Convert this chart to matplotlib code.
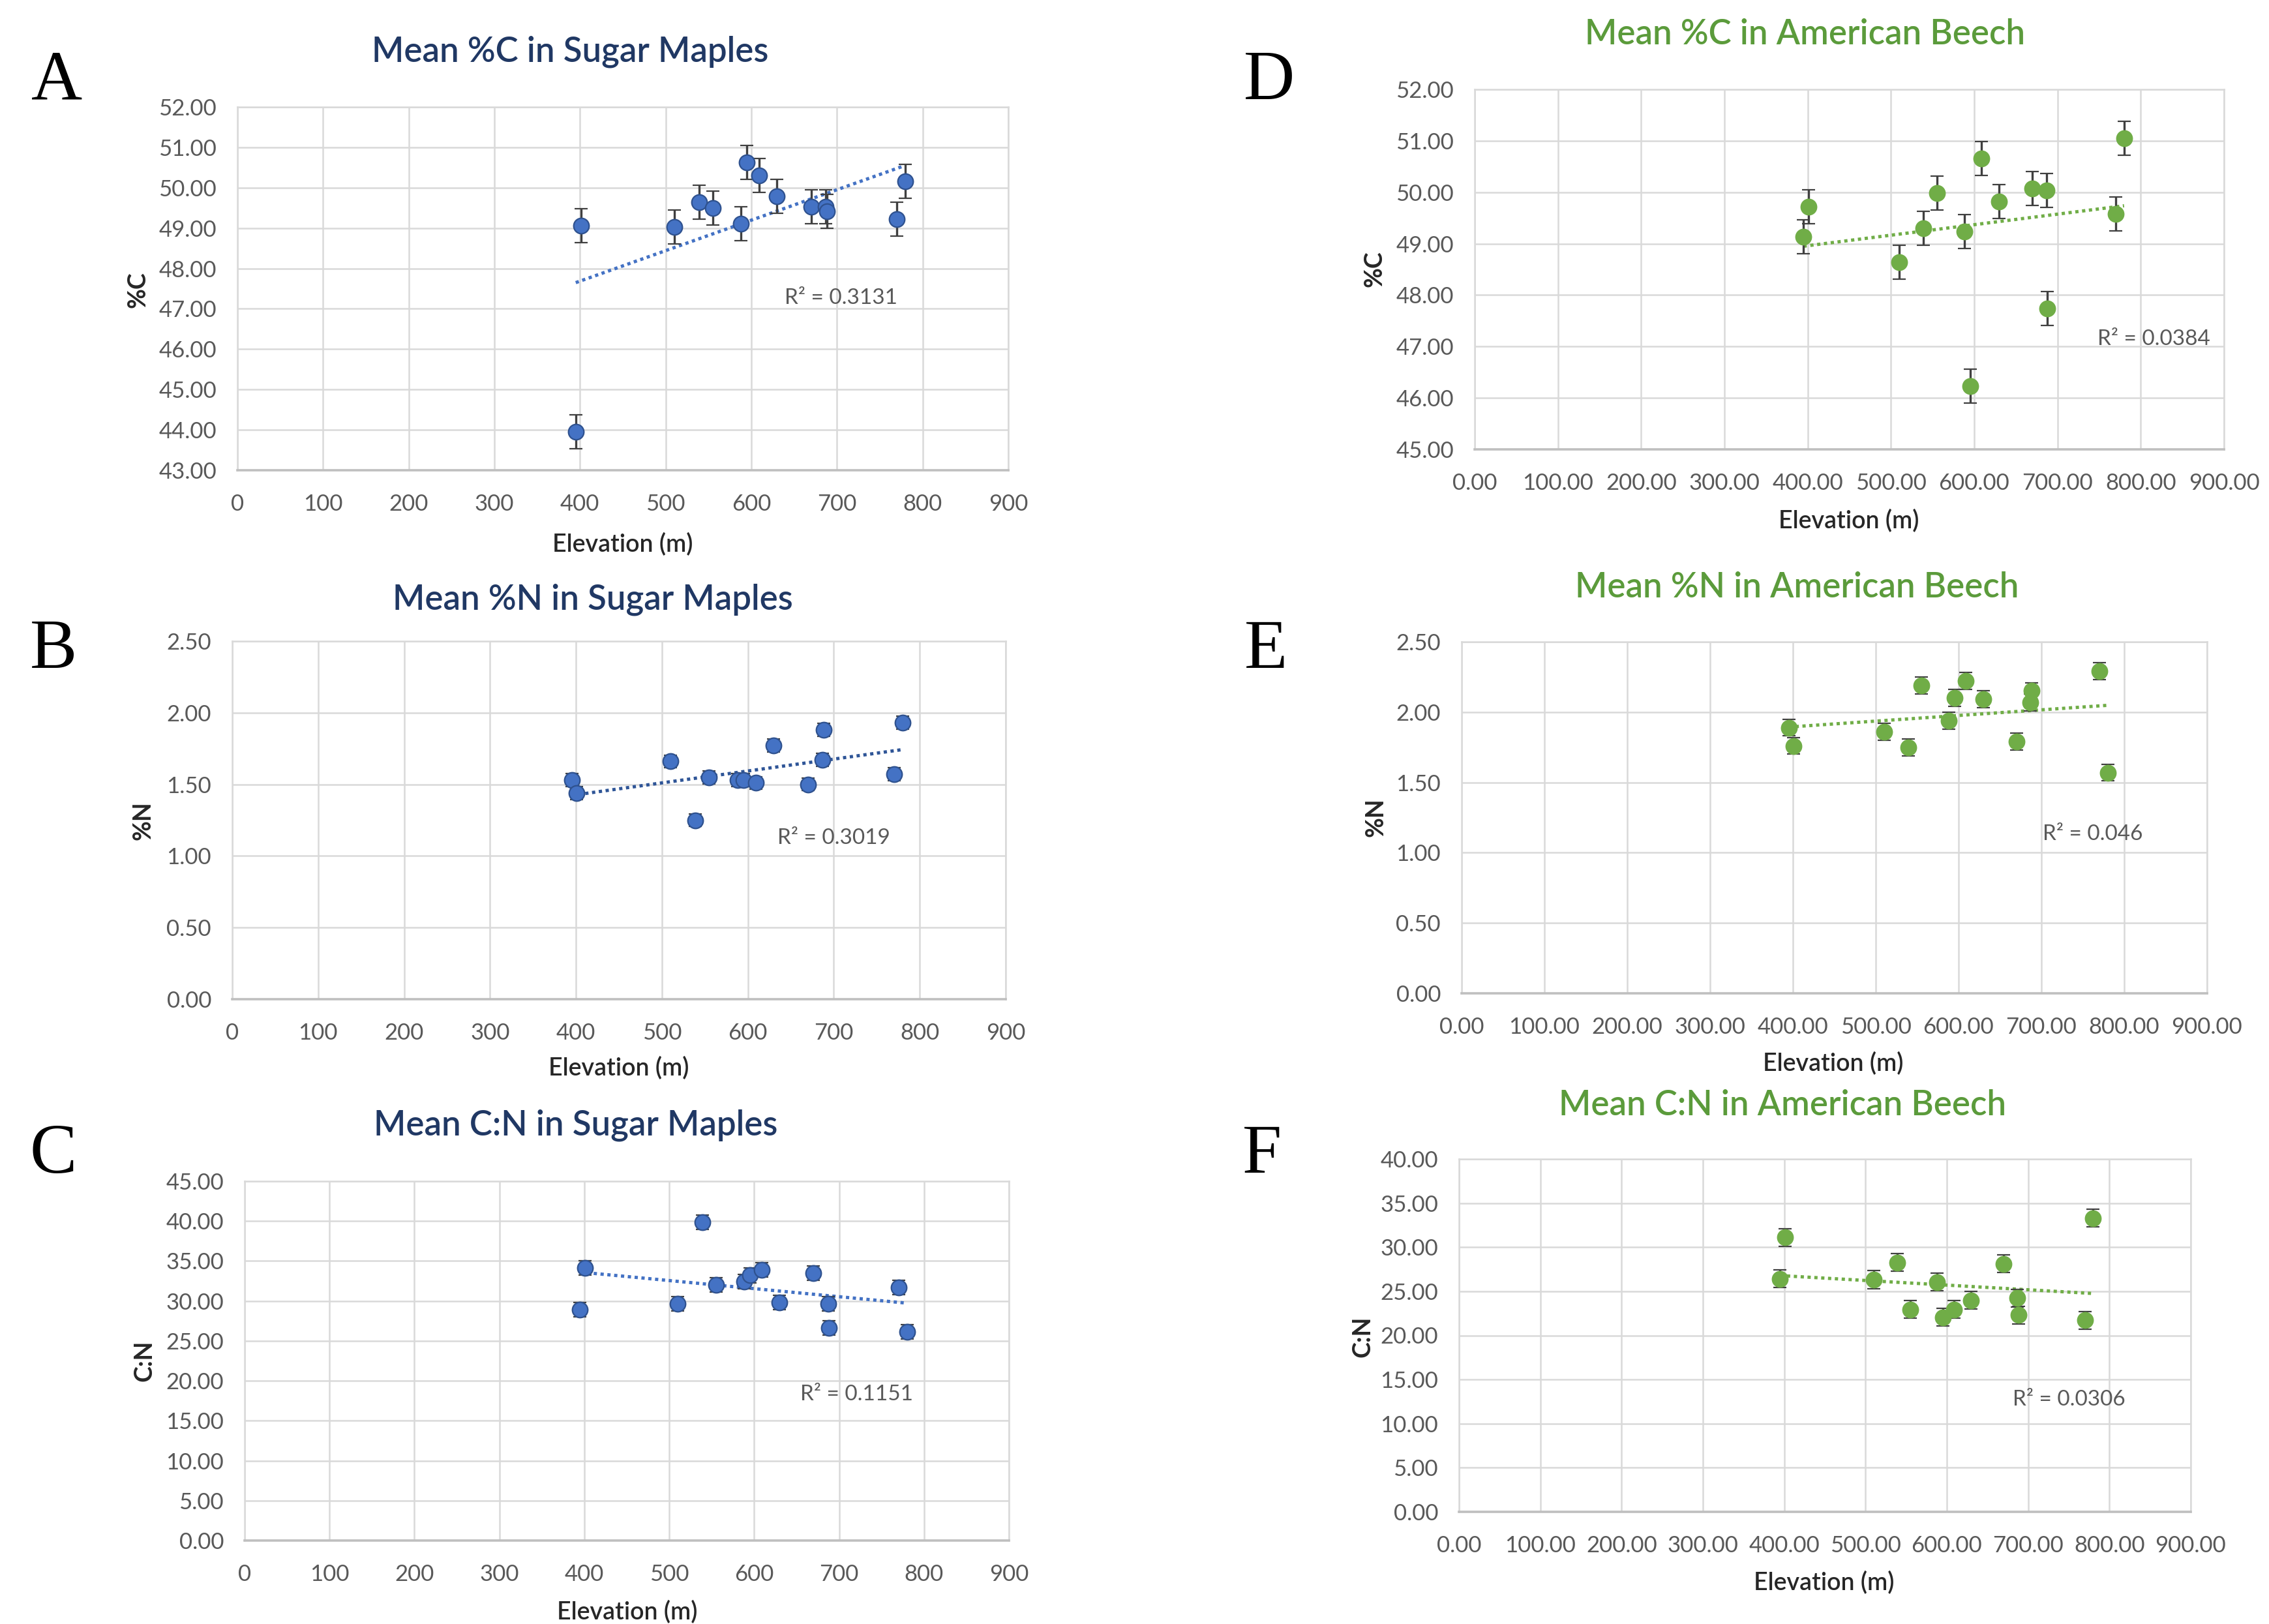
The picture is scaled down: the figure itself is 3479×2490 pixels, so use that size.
import numpy as np
import matplotlib.pyplot as plt
from matplotlib.ticker import MultipleLocator, FormatStrFormatter

plt.rcParams['font.family'] = ['Lato', 'DejaVu Sans']

# elevation of the sampling sites (m), same for both species
elev = [395, 401, 510, 539, 555, 588, 595, 609, 630, 670, 687, 688, 770, 780]

# sugar maple
maple_c = [43.96, 49.06, 49.03, 49.64, 49.50, 49.11, 50.63, 50.30, 49.79, 49.52, 49.52, 49.42, 49.22, 50.16]
maple_n = [1.53, 1.44, 1.66, 1.25, 1.55, 1.53, 1.53, 1.51, 1.77, 1.50, 1.67, 1.88, 1.57, 1.93]
maple_cn = [28.92, 34.17, 29.62, 39.85, 31.98, 32.42, 33.20, 33.86, 29.80, 33.51, 29.62, 26.65, 31.68, 26.13]
maple_c_err, maple_n_err, maple_cn_err = 0.42, 0.045, 0.9

# american beech
beech_c = [49.14, 49.72, 48.64, 49.30, 49.98, 49.24, 46.23, 50.65, 49.82, 50.07, 50.04, 47.74, 49.58, 51.05]
beech_n = [1.89, 1.76, 1.86, 1.75, 2.19, 1.94, 2.10, 2.22, 2.09, 1.79, 2.07, 2.15, 2.29, 1.57]
beech_cn = [26.40, 31.12, 26.32, 28.26, 22.95, 26.04, 22.04, 22.95, 23.98, 28.10, 24.22, 22.32, 21.72, 33.30]
beech_c_err, beech_n_err, beech_cn_err = 0.33, 0.06, 1.0

r2_labels = ["R² = 0.3131", "R² = 0.3019", "R² = 0.1151", "R² = 0.0384", "R² = 0.046", "R² = 0.0306"]

W, H = 3479, 2490
fig = plt.figure(figsize=(W / 100, H / 100), dpi=100)

def px(x, y):
    return x / W, 1 - y / H

BLUE, BLUE_EDGE, NAVY = '#4472C4', '#2F528F', '#203864'
GREEN, GREEN_T = '#70AD47', '#5B9B3B'

# rect (x0, y0, x1, y1) in pixels, title xy, letter xy, xlabel xy, ylabel xy
panels = [
    dict(rect=(364, 164, 1546, 721), y=maple_c, err=maple_c_err, ylim=(43, 52), step=1,
         title="Mean %C in Sugar Maples", t=(874, 79), L="A", l=(87, 126), xl=(955, 835), yl=(211, 444),
         ylab="%C", r2=r2_labels[0], r2xy=(705, 47.27), beech=False, trend=BLUE),
    dict(rect=(356, 983, 1542, 1532), y=maple_n, err=maple_n_err, ylim=(0, 2.5), step=0.5,
         title="Mean %N in Sugar Maples", t=(909, 919), L="B", l=(82, 998), xl=(949, 1638), yl=(219, 1258),
         ylab="%N", r2=r2_labels[1], r2xy=(700, 1.124), beech=False, trend='#2F5597'),
    dict(rect=(375, 1811, 1547, 2362), y=maple_cn, err=maple_cn_err, ylim=(0, 45), step=5,
         title="Mean C:N in Sugar Maples", t=(883, 1725), L="C", l=(82, 1772), xl=(962, 2472), yl=(222, 2086),
         ylab="C:N", r2=r2_labels[2], r2xy=(721, 18.33), beech=False, trend=BLUE),
    dict(rect=(2261, 137, 3410, 689), y=beech_c, err=beech_c_err, ylim=(45, 52), step=1,
         title="Mean %C in American Beech", t=(2768, 52), L="D", l=(1946, 126), xl=(2835, 799), yl=(2108, 412),
         ylab="%C", r2=r2_labels[3], r2xy=(816, 47.14), beech=True, trend=GREEN),
    dict(rect=(2241, 984, 3384, 1523), y=beech_n, err=beech_n_err, ylim=(0, 2.5), step=0.5,
         title="Mean %N in American Beech", t=(2755, 900), L="E", l=(1941, 998), xl=(2811, 1631), yl=(2110, 1253),
         ylab="%N", r2=r2_labels[4], r2xy=(762, 1.13), beech=True, trend=GREEN),
    dict(rect=(2237, 1777, 3359, 2318), y=beech_cn, err=beech_cn_err, ylim=(0, 40), step=5,
         title="Mean C:N in American Beech", t=(2733, 1694), L="F", l=(1935, 1772), xl=(2797, 2427), yl=(2089, 2049),
         ylab="C:N", r2=r2_labels[5], r2xy=(750, 12.7), beech=True, trend=GREEN),
]

x = np.array(elev, dtype=float)
for p in panels:
    x0, y0, x1, y1 = p['rect']
    ax = fig.add_axes([x0 / W, 1 - y1 / H, (x1 - x0) / W, (y1 - y0) / H])
    y = np.array(p['y'])
    ax.set_xlim(0, 900)
    ax.set_ylim(*p['ylim'])
    ax.xaxis.set_major_locator(MultipleLocator(100))
    ax.yaxis.set_major_locator(MultipleLocator(p['step']))
    ax.yaxis.set_major_formatter(FormatStrFormatter('%.2f'))
    if p['beech']:
        ax.xaxis.set_major_formatter(FormatStrFormatter('%.2f'))
    else:
        ax.xaxis.set_major_formatter(FormatStrFormatter('%d'))
    ax.grid(True, color='#d9d9d9', lw=1.8)
    ax.set_axisbelow(True)
    for s in ax.spines.values():
        s.set_color('#d9d9d9')
        s.set_linewidth(1.8)
    ax.spines['bottom'].set_color('#bfbfbf')
    ax.spines['bottom'].set_linewidth(2.6)
    ax.tick_params(length=0, labelsize=25, labelcolor='#595959')
    ax.tick_params(axis='x', pad=26)
    ax.tick_params(axis='y', pad=23)

    if p['beech']:
        fc, ec = GREEN, GREEN
    else:
        fc, ec = BLUE, BLUE_EDGE
    ax.errorbar(x, y, yerr=p['err'], fmt='o', ms=17, mfc=fc, mec=ec, mew=1.6,
                ecolor='#404040', elinewidth=2.4, capsize=7, capthick=2.4, zorder=3)

    # linear trendline
    k, b = np.polyfit(x, y, 1)
    xs = np.array([x.min(), x.max()])
    ax.plot(xs, k * xs + b, ls=(0, (1, 1.1)), color=p['trend'], lw=3.6, zorder=2.5)

    ax.text(p['r2xy'][0], p['r2xy'][1], p['r2'], fontsize=24, color='#595959',
            ha='center', va='center')

    tcol = GREEN_T if p['beech'] else NAVY
    fig.text(*px(*p['t']), p['title'], fontsize=38, color=tcol, ha='center', va='center',
             fontweight='semibold')
    fig.text(*px(*p['l']), p['L'], fontsize=78, family='Liberation Serif', ha='center', va='center')
    fig.text(*px(*p['xl']), "Elevation (m)", fontsize=27, color='#262626', ha='center', va='center',
             fontweight='semibold')
    fig.text(*px(*p['yl']), p['ylab'], fontsize=27, color='#262626', ha='center', va='center',
             rotation=90, fontweight='bold')

fig.savefig('out.png', dpi=100, facecolor='white')
